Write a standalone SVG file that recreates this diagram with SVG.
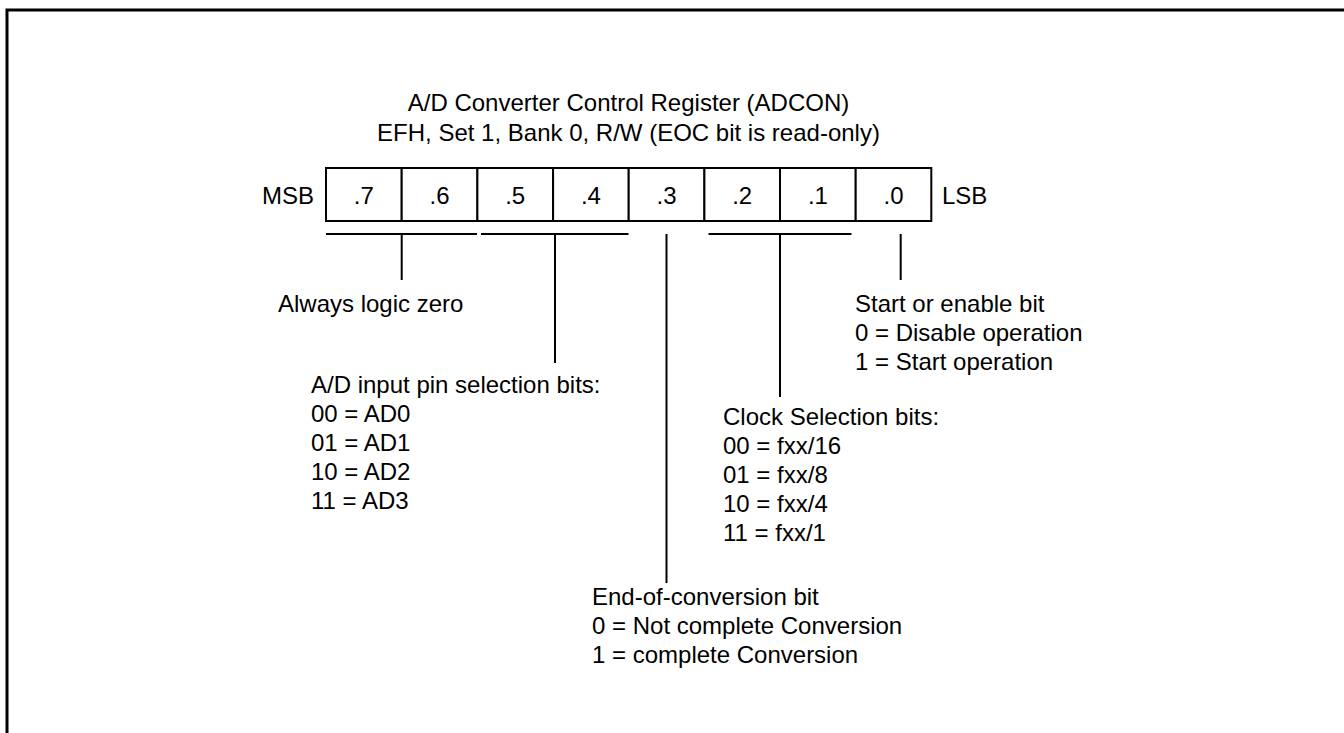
<svg xmlns="http://www.w3.org/2000/svg" width="1344" height="733" viewBox="0 0 1344 733">
<style>
text{font-family:"Liberation Sans",Arial,sans-serif;font-size:24px;fill:#000}
.c{text-anchor:middle}
.ln{stroke:#000;stroke-width:2;fill:none}
.cell{stroke:#000;stroke-width:2;fill:#fff}
</style>
<rect x="7" y="10" width="1400" height="800" fill="none" stroke="#000" stroke-width="3"/>
<g id="title">
<text class="c" x="628.5" y="111">A/D Converter Control Register (ADCON)</text>
<text class="c" x="628.5" y="141">EFH, Set 1, Bank 0, R/W (EOC bit is read-only)</text>
</g>
<g id="register">
<text x="314" y="204" text-anchor="end">MSB</text>
<rect class="cell" x="326" y="168" width="75.7" height="53"/>
<rect class="cell" x="401.7" y="168" width="75.7" height="53"/>
<rect class="cell" x="477.4" y="168" width="75.7" height="53"/>
<rect class="cell" x="553.1" y="168" width="75.6" height="53"/>
<rect class="cell" x="628.7" y="168" width="75.7" height="53"/>
<rect class="cell" x="704.4" y="168" width="75.6" height="53"/>
<rect class="cell" x="780" y="168" width="75.7" height="53"/>
<rect class="cell" x="855.7" y="168" width="75.6" height="53"/>
<text class="c" x="363.8" y="204">.7</text>
<text class="c" x="439.5" y="204">.6</text>
<text class="c" x="515.2" y="204">.5</text>
<text class="c" x="590.9" y="204">.4</text>
<text class="c" x="666.5" y="204">.3</text>
<text class="c" x="742.2" y="204">.2</text>
<text class="c" x="817.9" y="204">.1</text>
<text class="c" x="893.5" y="204">.0</text>
<text x="942" y="204">LSB</text>
</g>
<g id="connectors">
<line class="ln" x1="326" y1="234" x2="477" y2="234"/>
<line class="ln" x1="401.7" y1="234" x2="401.7" y2="280"/>
<line class="ln" x1="481" y1="234" x2="628.5" y2="234"/>
<line class="ln" x1="555" y1="234" x2="555" y2="363"/>
<line class="ln" x1="666.5" y1="234" x2="666.5" y2="583"/>
<line class="ln" x1="708.5" y1="234" x2="851.5" y2="234"/>
<line class="ln" x1="780" y1="234" x2="780" y2="397"/>
<line class="ln" x1="900.7" y1="234" x2="900.7" y2="280"/>
</g>
<g id="always-zero">
<text x="278" y="312">Always logic zero</text>
</g>
<g id="input-pin">
<text x="311" y="393">A/D input pin selection bits:</text>
<text x="311" y="422">00 = AD0</text>
<text x="311" y="451">01 = AD1</text>
<text x="311" y="480">10 = AD2</text>
<text x="311" y="509">11 = AD3</text>
</g>
<g id="eoc">
<text x="592" y="605">End-of-conversion bit</text>
<text x="592" y="634">0 = Not complete Conversion</text>
<text x="592" y="663">1 = complete Conversion</text>
</g>
<g id="clock">
<text x="723" y="425">Clock Selection bits:</text>
<text x="723" y="454">00 = fxx/16</text>
<text x="723" y="483">01 = fxx/8</text>
<text x="723" y="512">10 = fxx/4</text>
<text x="723" y="541">11 = fxx/1</text>
</g>
<g id="start">
<text x="855" y="312">Start or enable bit</text>
<text x="855" y="341">0 = Disable operation</text>
<text x="855" y="370">1 = Start operation</text>
</g>
</svg>
